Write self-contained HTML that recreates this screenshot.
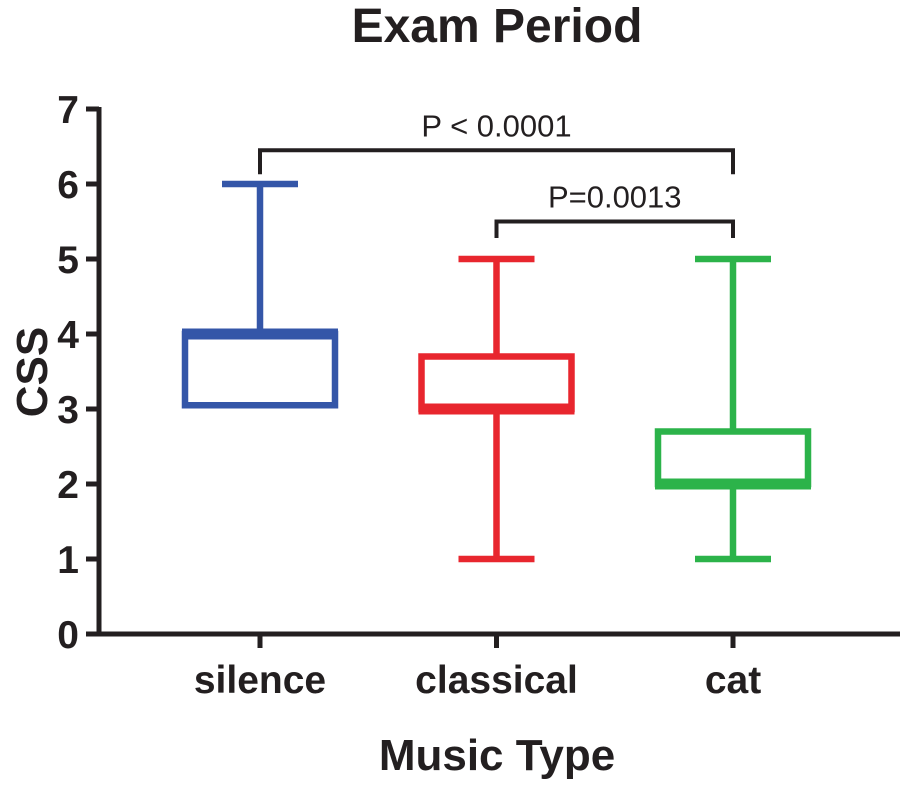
<!DOCTYPE html>
<html><head><meta charset="utf-8"><style>
html,body{margin:0;padding:0;background:#fff;}
svg{display:block;font-family:"Liberation Sans",Arial,sans-serif;}
</style></head><body>
<svg id="chart" width="900" height="785" viewBox="0 0 900 785">
<text x="497" y="42" text-anchor="middle" font-size="48" font-weight="bold" fill="#231f20">Exam Period</text>
<text x="497" y="770" text-anchor="middle" font-size="44" font-weight="bold" fill="#231f20">Music Type</text>
<text transform="translate(47,372) rotate(-90)" text-anchor="middle" font-size="44" font-weight="bold" fill="#231f20">CSS</text>
<g id="axes"></g>
<g id="boxes"></g>
<g id="brackets"></g>
</svg>
<script>
const categories = ["silence", "classical", "cat"];
const mins = [3.05, 1, 1];
const q1s = [3.05, 3, 2];
const medians = [4, 3, 2];
const q3s = [4, 3.7, 2.7];
const maxs = [6, 5, 5];
const colors = ["#3456a8", "#e8262e", "#2cb34a"];
const yTicks = [0, 1, 2, 3, 4, 5, 6, 7];
const brackets = [
  {from: 0, to: 2, level: 6.45, drop: 6.13, label: "P < 0.0001"},
  {from: 1, to: 2, level: 5.5, drop: 5.28, label: "P=0.0013"}
];
const NS = "http://www.w3.org/2000/svg";
function y(v){ return 634 - v * 75.0; }
function x(i){ return 260 + i * 236.5; }
function mk(tag, attrs, parent){
  const e = document.createElementNS(NS, tag);
  for (const k in attrs) e.setAttribute(k, attrs[k]);
  parent.appendChild(e); return e;
}
const axes = document.getElementById("axes");
const boxes = document.getElementById("boxes");
const br = document.getElementById("brackets");
const ink = "#231f20";
let l = mk("line", {x1: 99, y1: y(7) - 2, x2: 99, y2: 636, stroke: ink, "stroke-width": 5}, axes);


l = mk("line", {x1: 97, y1: 634, x2: 900, y2: 634, stroke: ink, "stroke-width": 5}, axes);


yTicks.forEach(t => {
  const tk = mk("line", {x1: 86, y1: y(t), x2: 99, y2: y(t), stroke: ink, "stroke-width": 5}, axes);
  
  
  const tx = mk("text", {x: 79, y: y(t) + 14, "text-anchor": "end", "font-size": 39, "font-weight": "bold", fill: ink}, axes);
  tx.textContent = t;
  
  
});
categories.forEach((c, i) => {
  const cx = x(i);
  const tk = mk("line", {x1: cx, y1: 634, x2: cx, y2: 648, stroke: ink, "stroke-width": 5}, axes);
  
  
  const tx = mk("text", {x: cx, y: 693, "text-anchor": "middle", "font-size": 39, "font-weight": "bold", fill: ink}, axes);
  tx.textContent = c;
  
  
  const g = mk("g", {stroke: colors[i], fill: "none"}, boxes);
  
  
  const sw = 6.5, hw = 75, cw = 38;
  mk("line", {x1: cx, y1: y(maxs[i]), x2: cx, y2: y(q3s[i]), "stroke-width": sw}, g);
  if (mins[i] < q1s[i]) {
    mk("line", {x1: cx, y1: y(mins[i]), x2: cx, y2: y(q1s[i]), "stroke-width": sw}, g);
    mk("line", {x1: cx - cw, y1: y(mins[i]), x2: cx + cw, y2: y(mins[i]), "stroke-width": sw}, g);
  }
  mk("line", {x1: cx - cw, y1: y(maxs[i]), x2: cx + cw, y2: y(maxs[i]), "stroke-width": sw}, g);
  mk("rect", {x: cx - hw, y: y(q3s[i]), width: 2 * hw, height: y(q1s[i]) - y(q3s[i]), "stroke-width": sw}, g);
  mk("line", {x1: cx - hw - 3, y1: y(medians[i]), x2: cx + hw + 3, y2: y(medians[i]), "stroke-width": 11}, g);
});
brackets.forEach((b, k) => {
  const x1 = x(b.from), x2 = x(b.to);
  const p = mk("polyline", {points: `${x1},${y(b.drop)} ${x1},${y(b.level)} ${x2},${y(b.level)} ${x2},${y(b.drop)}`, fill: "none", stroke: ink, "stroke-width": 4}, br);
  
  
  const t = mk("text", {x: (x1 + x2) / 2, y: y(b.level) - 14, "text-anchor": "middle", "font-size": 31, fill: ink}, br);
  t.textContent = b.label;
  
  
});
</script>
</body></html>
